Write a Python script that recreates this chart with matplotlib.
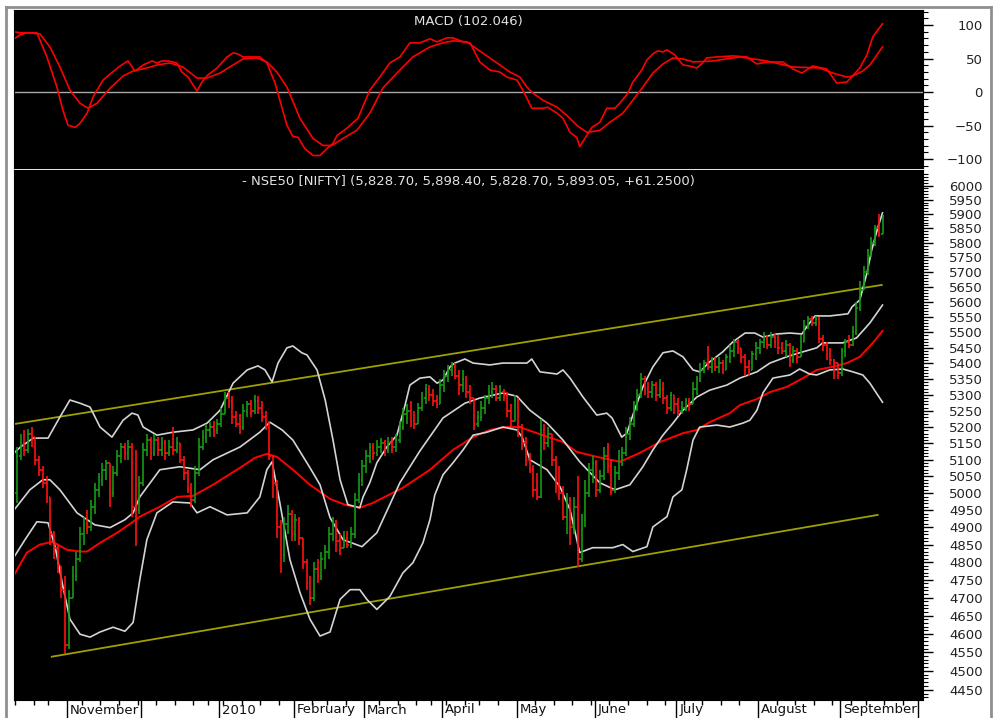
import matplotlib
matplotlib.use("Agg")
import matplotlib.pyplot as plt
from matplotlib.lines import Line2D
from matplotlib.ticker import FixedLocator, FixedFormatter, NullFormatter
import numpy as np
import pandas as pd

plt.rcParams.update({"font.family": "DejaVu Sans", "font.size": 9.5})

# ---- trading calendar (NSE), Oct 2009 - Sep 2010 ----
nse_holidays = ["2009-10-19", "2009-11-02", "2009-12-25", "2009-12-28", "2010-01-26",
                "2010-02-12", "2010-03-01", "2010-03-24", "2010-04-02", "2010-04-14",
                "2010-09-10"]
month_names = ["November", "", "2010", "February", "March", "April", "May", "June",
               "July", "August", "September"]

# ---- NIFTY daily bars ----
first_open = 5000
bar_close = [
    5110, 5150, 5130, 5180, 5170, 5100, 5070, 5030, 4990, 4880,
    4840, 4790, 4720, 4570, 4700, 4760, 4810, 4880, 4910, 4900,
    4960, 5010, 5040, 5070, 5090, 5000, 5060, 5110, 5140, 5120,
    5140, 4960, 4950, 5030, 5130, 5160, 5120, 5160, 5130, 5150,
    5120, 5140, 5130, 5150, 5100, 5060, 5010, 4980, 5060, 5140,
    5170, 5190, 5200, 5190, 5210, 5240, 5290, 5280, 5230, 5210,
    5200, 5250, 5270, 5250, 5280, 5260, 5230, 5200, 5110, 5030,
    4900, 4820, 4910, 4940, 4880, 4920, 4870, 4800, 4740, 4700,
    4780, 4760, 4810, 4830, 4880, 4910, 4860, 4840, 4870, 4850,
    4880, 4980, 5040, 5080, 5110, 5140, 5120, 5140, 5150, 5130,
    5150, 5140, 5160, 5200, 5240, 5250, 5220, 5210, 5260, 5290,
    5320, 5300, 5280, 5270, 5330, 5360, 5380, 5390, 5360, 5330,
    5350, 5310, 5290, 5210, 5230, 5260, 5290, 5310, 5320, 5290,
    5310, 5300, 5250, 5220, 5280, 5200, 5150, 5100, 5070, 5010,
    4990, 5190, 5150, 5180, 5100, 5020, 5000, 4930, 4980, 4900,
    4960, 4810, 4920, 5000, 5070, 5090, 5010, 5050, 5110, 5080,
    5010, 5060, 5110, 5120, 5180, 5210, 5260, 5300, 5350, 5320,
    5310, 5330, 5300, 5320, 5290, 5260, 5300, 5270, 5250, 5260,
    5280, 5270, 5320, 5350, 5380, 5400, 5390, 5410, 5390, 5400,
    5380, 5420, 5440, 5470, 5450, 5420, 5390, 5380, 5430, 5450,
    5470, 5480, 5460, 5485, 5470, 5450, 5440, 5460, 5410, 5440,
    5420, 5470, 5520, 5545, 5530, 5545, 5480, 5460, 5430, 5410,
    5400, 5370, 5440, 5470, 5460, 5500, 5580, 5640, 5700, 5760,
    5800, 5850, 5832, 5893]
bar_high = [
    5140, 5180, 5190, 5195, 5200, 5170, 5110, 5080, 5050, 4990,
    4890, 4850, 4790, 4760, 4720, 4790, 4830, 4900, 4930, 4950,
    4980, 5030, 5060, 5090, 5100, 5090, 5080, 5130, 5150, 5150,
    5160, 5150, 5130, 5050, 5150, 5180, 5170, 5180, 5170, 5170,
    5160, 5160, 5200, 5170, 5150, 5110, 5070, 5030, 5080, 5165,
    5190, 5210, 5215, 5220, 5225, 5260, 5310, 5310, 5295, 5250,
    5240, 5270, 5280, 5285, 5300, 5295, 5280, 5250, 5220, 5110,
    5040, 4920, 4930, 4965, 4950, 4940, 4930, 4870, 4810, 4760,
    4800, 4810, 4830, 4850, 4900, 4930, 4920, 4880, 4890, 4890,
    4900, 5000, 5060, 5100, 5130, 5150, 5150, 5160, 5165, 5160,
    5170, 5170, 5180, 5220, 5260, 5270, 5280, 5250, 5275, 5310,
    5335, 5330, 5320, 5300, 5350, 5380, 5395, 5405, 5400, 5380,
    5380, 5360, 5330, 5290, 5250, 5280, 5300, 5330, 5340, 5330,
    5330, 5320, 5310, 5270, 5300, 5290, 5210, 5170, 5120, 5085,
    5060, 5225, 5210, 5200, 5180, 5110, 5080, 5020, 5000, 4990,
    4990, 5050, 4940, 5040, 5090, 5110, 5100, 5070, 5140, 5150,
    5100, 5080, 5130, 5140, 5200, 5230, 5280, 5320, 5370, 5360,
    5340, 5345, 5340, 5350, 5340, 5300, 5310, 5300, 5290, 5280,
    5290, 5290, 5340, 5360, 5400, 5410, 5455, 5420, 5420, 5420,
    5410, 5430, 5460, 5480, 5480, 5450, 5430, 5410, 5440, 5470,
    5480, 5500, 5490, 5500, 5495, 5490, 5470, 5475, 5465, 5455,
    5450, 5490, 5540, 5555, 5555, 5555, 5550, 5490, 5470, 5450,
    5415, 5400, 5450, 5480, 5490, 5520, 5600, 5670, 5720, 5780,
    5820, 5860, 5900, 5898]
bar_low = [
    4970, 5100, 5110, 5120, 5140, 5085, 5050, 5015, 4970, 4850,
    4810, 4770, 4700, 4545, 4560, 4700, 4745, 4800, 4850, 4880,
    4890, 4940, 4990, 5020, 5040, 4960, 4990, 5050, 5090, 5100,
    5100, 4930, 4845, 4940, 5020, 5110, 5100, 5110, 5110, 5110,
    5100, 5110, 5115, 5120, 5090, 5040, 5000, 4960, 4970, 5050,
    5130, 5150, 5170, 5170, 5180, 5200, 5240, 5260, 5210, 5200,
    5180, 5190, 5230, 5230, 5240, 5240, 5215, 5190, 5100, 4985,
    4870, 4770, 4800, 4880, 4860, 4860, 4850, 4780, 4720, 4680,
    4690, 4740, 4750, 4780, 4810, 4860, 4830, 4820, 4840, 4840,
    4840, 4870, 4970, 5020, 5060, 5090, 5100, 5110, 5120, 5110,
    5120, 5120, 5125, 5150, 5190, 5210, 5200, 5195, 5210, 5250,
    5270, 5280, 5265, 5260, 5270, 5310, 5340, 5360, 5350, 5300,
    5310, 5290, 5270, 5190, 5200, 5220, 5240, 5270, 5290, 5280,
    5280, 5280, 5230, 5200, 5220, 5170, 5130, 5080, 5060, 4990,
    4980, 4985, 5130, 5140, 5080, 5000, 4980, 4920, 4880, 4850,
    4880, 4786, 4800, 4900, 4990, 5030, 4990, 5000, 5040, 5060,
    4995, 5000, 5040, 5080, 5110, 5160, 5200, 5250, 5290, 5300,
    5290, 5290, 5280, 5290, 5270, 5240, 5250, 5240, 5235, 5240,
    5250, 5250, 5270, 5300, 5340, 5370, 5380, 5370, 5375, 5370,
    5365, 5380, 5400, 5420, 5430, 5400, 5360, 5360, 5380, 5410,
    5430, 5450, 5445, 5450, 5450, 5430, 5430, 5420, 5390, 5400,
    5400, 5420, 5470, 5510, 5520, 5520, 5465, 5440, 5410, 5395,
    5350, 5350, 5360, 5420, 5450, 5455, 5490, 5570, 5640, 5690,
    5750, 5790, 5820, 5829]

# ---- indicator lines (bar position, value) ----
ub_pos = [-0.7, 1, 4.4, 8.4, 11.6, 14.3, 17, 19.7, 22.4, 25.6, 28.6, 31, 32.6, 34, 37.7, 42,
          47.4, 51.2, 54.7, 58.2, 62, 64.9, 66.8, 68.7, 70.3, 72.7, 74.3, 76.7, 78.1, 80.8, 83,
          85.1, 87, 89.1, 92.3, 93.2, 95, 96.9, 99.6, 102.3, 104.5, 105.8, 108.5, 111.2, 113.1,
          114.7, 116.6, 117.9, 120.6, 122.8, 127.3, 130.8, 137.3, 138.6, 140.8, 145.4, 147,
          148.9, 152.4, 156.1, 158.8, 160.2, 162.8, 164.2, 165.8, 168.5, 171.2, 173.9, 176.6,
          179.3, 182, 183.8, 186.5, 190, 192.7, 196, 198.6, 200.8, 204.6, 208, 211.3, 212.6,
          214.8, 218.8, 223.7, 224.8, 226.9, 228.8, 230.1, 231.7, 233]
ub_val = [5121, 5139, 5166, 5166, 5231, 5284, 5274, 5262, 5200, 5169, 5221, 5243, 5237, 5200,
          5175, 5184, 5191, 5212, 5252, 5337, 5379, 5392, 5379, 5341, 5401, 5450, 5456, 5434,
          5427, 5379, 5284, 5160, 5040, 4966, 4957, 4989, 5031, 5091, 5139, 5175, 5268, 5331,
          5353, 5357, 5337, 5347, 5389, 5401, 5414, 5401, 5395, 5401, 5401, 5414, 5373, 5366,
          5379, 5353, 5293, 5237, 5243, 5228, 5169, 5181, 5237, 5325, 5389, 5434, 5440, 5421,
          5379, 5373, 5405, 5437, 5469, 5498, 5498, 5485, 5495, 5498, 5495, 5518, 5554, 5554,
          5561, 5584, 5607, 5697, 5776, 5851, 5904]

mb_pos = [-0.7, 3.5, 7, 8.9, 11.6, 16.2, 21, 25.1, 29.1, 31.3, 33.1, 38.5, 43.9, 49.3, 52.8,
          60.1, 65.4, 68.1, 71.4, 74.3, 78.9, 81.6, 84.3, 87.8, 92.9, 96.9, 103.1, 108.5, 114.7,
          120.6, 124.6, 130.8, 134.6, 138.1, 142.7, 147, 151.5, 156.9, 161, 165, 168.5, 171.2,
          173.9, 176.6, 179.3, 183, 186.5, 191.1, 194.6, 199.2, 202.7, 207.2, 210.7, 215.3,
          216.9, 222.3, 226, 229.6, 233]
mb_val = [4951, 5010, 5040, 5040, 5010, 4942, 4907, 4899, 4922, 4942, 4989, 5070, 5079, 5070,
          5100, 5139, 5184, 5215, 5191, 5160, 5076, 5025, 4928, 4864, 4844, 4884, 5031, 5127,
          5228, 5274, 5290, 5306, 5296, 5252, 5212, 5160, 5094, 5031, 5010, 5025, 5079, 5130,
          5175, 5212, 5252, 5293, 5315, 5331, 5353, 5373, 5401, 5421, 5434, 5450, 5466, 5466,
          5482, 5531, 5590]

lb_pos = [-0.7, 2.2, 5.4, 8.4, 10.3, 12.4, 14.3, 17, 19.7, 22.4, 25.9, 29.1, 31.3, 33.1, 35,
          37.7, 42, 46.6, 48.5, 52, 56.6, 62, 65.4, 67.3, 68.7, 70.8, 73.5, 76.2, 78.9, 81.6,
          84.3, 87, 89.7, 92.3, 94.2, 96.9, 100.4, 103.9, 106.6, 109.3, 111.2, 112.5, 114.7,
          117.4, 120.1, 122.8, 126.5, 130.8, 134.6, 136, 138.1, 142.7, 146.2, 148.9, 151.5, 155,
          160.4, 163.1, 165.8, 169.6, 171.2, 175, 176.6, 179, 180.3, 182, 183.8, 188.4, 191.9,
          195.4, 197.3, 199.2, 200.8, 203.5, 208.1, 210.7, 213.4, 215.3, 218.8, 222.3, 225,
          227.7, 229.6, 233]
lb_val = [4815, 4864, 4916, 4913, 4844, 4731, 4640, 4599, 4591, 4605, 4618, 4607, 4631, 4750,
          4864, 4942, 4974, 4971, 4942, 4960, 4936, 4942, 4989, 5070, 5094, 4971, 4807, 4714,
          4640, 4594, 4605, 4695, 4722, 4722, 4695, 4667, 4703, 4769, 4798, 4855, 4922, 4995,
          5055, 5091, 5130, 5175, 5184, 5200, 5191, 5169, 5100, 5070, 5019, 4951, 4827, 4841,
          4841, 4850, 4830, 4844, 4901, 4931, 4989, 5010, 5070, 5160, 5200, 5206, 5200, 5212,
          5221, 5252, 5306, 5353, 5363, 5382, 5366, 5363, 5379, 5382, 5373, 5363, 5337, 5277]

ma_pos = [-0.7, 2.7, 6.2, 9.7, 13.5, 17, 18.9, 22.4, 27, 31.3, 33.1, 38.5, 43.1, 47.4, 52.8,
          60.1, 64.1, 67.3, 70, 74.3, 78.9, 84.3, 88.3, 92.3, 95.8, 103.9, 111.2, 117.4, 122.8,
          127.3, 131.9, 135.4, 140, 147, 150.7, 156.1, 162.3, 167.7, 173.1, 179.3, 183, 186.5,
          191.9, 194.6, 199.2, 202.7, 207.2, 211.6, 215.3, 219.6, 223.4, 226.9, 230.4, 233]
ma_val = [4764, 4827, 4850, 4858, 4835, 4830, 4830, 4855, 4884, 4916, 4931, 4960, 4989, 4992,
          5025, 5076, 5106, 5118, 5109, 5070, 5025, 4983, 4966, 4957, 4971, 5016, 5070, 5130,
          5169, 5191, 5200, 5200, 5181, 5154, 5124, 5109, 5094, 5121, 5154, 5181, 5191, 5215,
          5243, 5268, 5287, 5309, 5325, 5353, 5379, 5389, 5401, 5421, 5466, 5505]

macd_pos = [-0.7, 0.9, 5.4, 8.1, 10.8, 12.4, 13.8, 15.7, 17, 18.9, 20.5, 23.2, 25.1, 27.8, 29.9,
            31.8, 34, 36.4, 37.7, 39.1, 40.7, 43.1, 44.4, 46.1, 48.5, 49.8, 51.4, 53.9, 56.6,
            58.2, 59.5, 60.9, 65.4, 67.3, 69.5, 72.7, 74.3, 75.7, 77.5, 79.7, 81.6, 83.5, 85.1,
            86.2, 88.8, 91.8, 95, 97.7, 100.4, 103.1, 105.8, 108.5, 111.2, 113.1, 115.8, 117.4,
            120.1, 122, 124.6, 127.3, 130, 131.9, 134.6, 136.2, 138.6, 141.6, 142.9, 145.4, 147,
            148.9, 150.7, 151.5, 152.9, 154.8, 156.9, 158.8, 161, 162.3, 164.5, 165.8, 168.2,
            169.6, 171.2, 172.5, 173.9, 175, 177.1, 179.3, 181.1, 183, 184.6, 185.7, 188.4,
            192.7, 196.5, 199.2, 202.1, 206.2, 208.9, 211.3, 214.2, 218, 220.7, 223.4, 226.9,
            228.8, 230.4, 233]
macd_val = [90, 88.5, 88.5, 52.5, 7.5, -27, -49.5, -52.5, -46.5, -31.5, -7.5, 18, 27, 39, 46.5,
            31.5, 40.5, 46.5, 43.5, 46.5, 46.5, 43.5, 30, 22.5, 1.5, 15, 25.5, 36, 52.5, 58.5,
            57, 52.5, 52.5, 43.5, 13.5, -49.5, -66, -67.5, -84, -94.5, -94.5, -84, -76.5, -64.5,
            -54, -39, 3, 22.5, 43.5, 52.5, 73.5, 73.5, 79.5, 75, 81, 81, 75, 73.5, 45, 33, 30,
            22.5, 18, 3, -24, -24, -22.5, -31.5, -39, -60, -67.5, -81, -69, -52.5, -45, -24, -24,
            -16.5, -1.5, 15, 33, 48, 57, 61.5, 60, 63, 55.5, 40.5, 39, 36, 43.5, 51, 52.5, 54,
            52.5, 42, 45, 45, 34.5, 28.5, 39, 34.5, 13.5, 15, 36, 55.5, 82.5, 102]

signal_pos = [-0.7, 0.9, 2.7, 6.2, 8.9, 11.6, 14.3, 17, 19.2, 21.6, 25.1, 28.6, 31.3, 35, 37.7,
              41.2, 44.7, 48.5, 51.2, 54.7, 58.2, 60.9, 64.6, 67.3, 70, 72.7, 76.2, 79.7, 82.4,
              84.8, 87.8, 91.5, 95, 98.5, 102.3, 106.6, 111.2, 114.7, 117.4, 121.1, 123.8, 127.3,
              130, 132.7, 135.4, 137.3, 138.9, 141.6, 145.4, 148, 150.7, 153.4, 156.9, 159.6,
              163.1, 165.8, 168.5, 171.2, 173.9, 176.6, 179.3, 182, 187.3, 194.6, 201.9, 208.9,
              216.1, 219.6, 223.4, 225, 227.7, 229.6, 233]
signal_val = [79.5, 85.5, 88.5, 87, 67.5, 37.5, 3, -16.5, -24, -16.5, 6, 24, 31.5, 36, 40.5,
              43.5, 37.5, 21, 21, 28.5, 40.5, 49.5, 51, 45, 30, 7.5, -39, -69, -79.5, -79.5,
              -69, -57, -31.5, 6, 28.5, 52.5, 67.5, 73.5, 76.5, 75, 64.5, 51, 40.5, 30, 22.5,
              7.5, -1.5, -12, -22.5, -34.5, -49.5, -60, -57, -45, -31.5, -12, 7.5, 28.5, 42, 51,
              49.5, 45, 46.5, 52.5, 46.5, 37.5, 36, 28.5, 22.5, 24, 31.5, 40.5, 67.5]

# trend channel (two points each)
upper_trend_pos = [-0.8, 232.8]
upper_trend_val = [5209, 5657]
lower_trend_pos = [9.4, 231.7]
lower_trend_val = [4538, 4936]

title_price = "- NSE50 [NIFTY] (5,828.70, 5,898.40, 5,828.70, 5,893.05, +61.2500)"
title_macd = "MACD (102.046)"

# ---------------------------------------------------------------
cal = pd.bdate_range("2009-10-12", "2010-09-30")
cal = cal[~cal.isin(pd.to_datetime(nse_holidays))]

close = np.array(bar_close, float)
high = np.array(bar_high, float)
low = np.array(bar_low, float)
opn = np.concatenate([[first_open], close[:-1]])
pos = np.arange(len(close))
up = close >= opn
cols = np.where(up, "#159a15", "#ff1010")

months = cal.month.values
month_edges = list(np.where(months[1:] != months[:-1])[0] + 0.5) + [len(cal) - 0.5]
weeks = cal.isocalendar().week.values
week_edges = [-0.5] + list(np.where(weeks[1:] != weeks[:-1])[0] + 0.5)

W, H = 1003, 718
fig = plt.figure(figsize=(W / 100, H / 100), dpi=100)
fig.patch.set_facecolor("white")
ax_m = fig.add_axes([14 / W, 1 - 167.5 / H, 909 / W, 157.5 / H])
ax_p = fig.add_axes([14 / W, 18 / H, 909 / W, 530 / H])
xlim = (-0.76, 243.9)

for ax in (ax_m, ax_p):
    ax.set_facecolor("black")
    ax.set_xlim(*xlim)
    for s in ax.spines.values():
        s.set_color("black")
    ax.yaxis.tick_right()

txt_col = "#e2e2e2"
lab_col = "#222222"

# ---- MACD panel ----
ax_m.axhline(0, color="#a8a8a8", lw=1)
ax_m.plot(signal_pos, signal_val, color="#ff0000", lw=1.2)
ax_m.plot(macd_pos, macd_val, color="#ff0000", lw=1.2)
ax_m.set_ylim(-112.4, 122.5)
ax_m.yaxis.set_major_locator(FixedLocator([-100, -50, 0, 50, 100]))
ax_m.yaxis.set_minor_locator(FixedLocator([v for v in range(-110, 121, 10) if v % 50]))
ax_m.set_xticks([])
ax_m.tick_params(axis="y", which="major", length=7.2, width=1, pad=36,
                 labelsize=9.5, labelcolor=lab_col, color="black")
ax_m.tick_params(axis="y", which="minor", length=3.6, width=0.8, color="black")
for t in ax_m.get_yticklabels():
    t.set_horizontalalignment("right")
ax_m.text(0.5, 0.924, title_macd, transform=ax_m.transAxes, ha="center", va="center",
          color=txt_col, fontsize=9.5)

# ---- price panel ----
ax_p.set_yscale("log")
ax_p.set_ylim(4423, 6056)
ax_p.plot(upper_trend_pos, upper_trend_val, color="#a0a000", lw=1.3)
ax_p.plot(lower_trend_pos, lower_trend_val, color="#a0a000", lw=1.3)
ax_p.plot(ma_pos, ma_val, color="#ff0000", lw=1.4)
for p, v in ((ub_pos, ub_val), (mb_pos, mb_val), (lb_pos, lb_val)):
    ax_p.plot(p, v, color="#d4d4d4", lw=1.2)

ax_p.vlines(pos, low, high, colors=cols, lw=1.2)
ax_p.hlines(opn, pos - 0.45, pos, colors=cols, lw=1.2)
ax_p.hlines(close, pos, pos + 0.45, colors=cols, lw=1.2)

majors = list(range(4450, 6001, 50))
ax_p.yaxis.set_major_locator(FixedLocator(majors))
ax_p.yaxis.set_major_formatter(FixedFormatter([str(v) for v in majors]))
ax_p.yaxis.set_minor_locator(FixedLocator([v for v in range(4430, 6060, 10) if v % 50]))
ax_p.yaxis.set_minor_formatter(NullFormatter())
ax_p.tick_params(axis="y", which="major", length=7.2, width=1, pad=36,
                 labelsize=9.5, labelcolor=lab_col, color="black")
ax_p.tick_params(axis="y", which="minor", length=3.6, width=0.8, color="black")
for t in ax_p.get_yticklabels():
    t.set_horizontalalignment("right")

ax_p.set_xticks(month_edges)
ax_p.set_xticklabels([])
ax_p.set_xticks(week_edges, minor=True)
ax_p.tick_params(axis="x", which="major", length=13, width=1, color="black")
ax_p.tick_params(axis="x", which="minor", length=3.6, width=1, color="black")
for e, name in zip(month_edges, month_names):
    ax_p.annotate(name, xy=(e, 0), xycoords=("data", "axes fraction"), xytext=(3, -10),
                  textcoords="offset pixels", ha="left", va="center", fontsize=9.5,
                  color="#111111")

ax_p.text(0.5, 0.979, title_price, transform=ax_p.transAxes, ha="center", va="center",
          color=txt_col, fontsize=9.5)

# outer frame
frame = dict(transform=fig.transFigure, color="#8f8f8f", lw=2)
fig.add_artist(Line2D([6 / W, 6 / W], [0, 1 - 6.5 / H], **frame))
fig.add_artist(Line2D([6 / W, 991 / W], [1 - 6.5 / H, 1 - 6.5 / H], **frame))
fig.add_artist(Line2D([991 / W, 991 / W], [0, 1 - 6.5 / H], **frame))

fig.savefig("out.png", dpi=100, facecolor="white")
